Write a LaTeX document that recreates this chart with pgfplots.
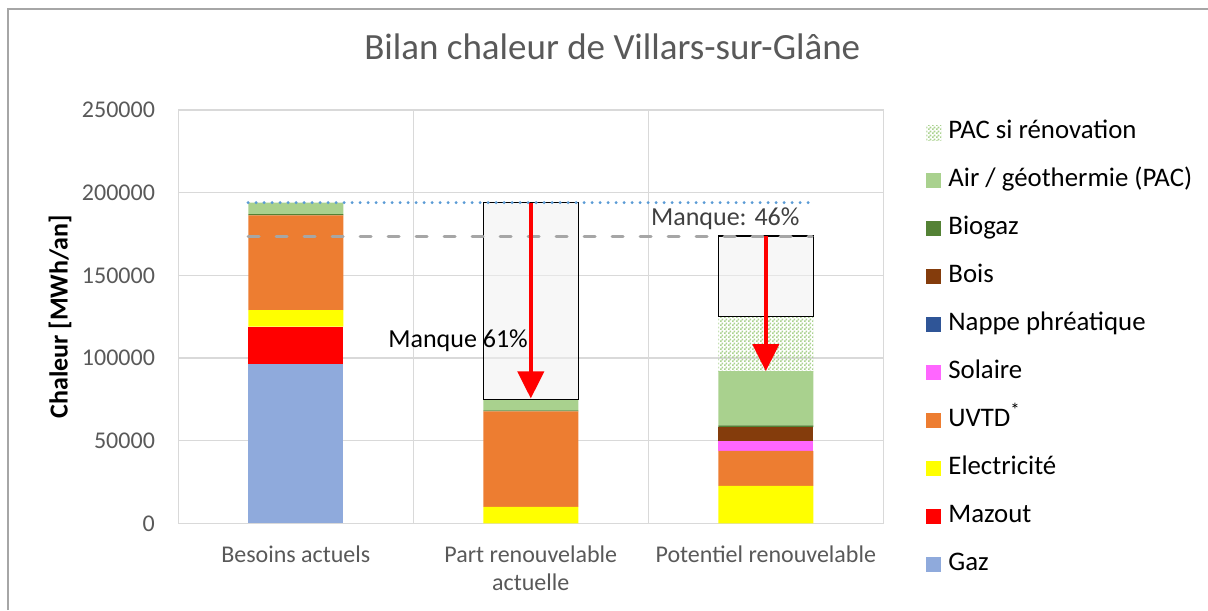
\documentclass[border=0pt]{standalone}
\usepackage{pgfplots}
\pgfplotsset{compat=1.18}
\usepackage{fontspec}
\setmainfont{Carlito}
\usetikzlibrary{patterns,arrows.meta}
\definecolor{cgaz}{HTML}{8FAADC}
\definecolor{cmazout}{HTML}{FF0000}
\definecolor{celec}{HTML}{FFFF00}
\definecolor{cuvtd}{HTML}{ED7D31}
\definecolor{csolaire}{HTML}{FF66FF}
\definecolor{cnappe}{HTML}{2F5597}
\definecolor{cbois}{HTML}{843C0C}
\definecolor{cbiogaz}{HTML}{548235}
\definecolor{cair}{HTML}{A9D18E}
\definecolor{cgrid}{HTML}{D9D9D9}
\definecolor{ctick}{HTML}{595959}
\definecolor{cmanq}{HTML}{404040}
\definecolor{cborder}{HTML}{A6A6A6}
\definecolor{cdot}{HTML}{5B9BD5}
\definecolor{cdash}{HTML}{A6A6A6}
\pgfdeclarepatternformonly{pacpat}{\pgfpointorigin}{\pgfpoint{2pt}{2pt}}{\pgfpoint{2pt}{2pt}}{%
  \pgfpathrectangle{\pgfpointorigin}{\pgfpoint{1pt}{1pt}}%
  \pgfpathrectangle{\pgfpoint{1pt}{1pt}}{\pgfpoint{1pt}{1pt}}%
  \pgfusepath{fill}}
\pgfplotsset{
  common/.style={at={(89.15pt,43.35pt)}, anchor=south west, scale only axis,
    width=352.5pt, height=206.65pt, xmin=-0.5, xmax=2.5, ymin=0, ymax=250000},
}
\begin{document}
\begin{tikzpicture}
\path[use as bounding box] (0,0) rectangle (604pt,305pt);
\draw[cborder, line width=1pt] (4pt,0pt) -- (4pt,300.5pt) -- (604pt,300.5pt);

\begin{axis}[common,
  ybar stacked, bar width=47.5pt,
  xtick={0,1,2},
  xticklabels={{Besoins actuels},{\begin{tabular}[t]{@{}c@{}}Part renouvelable\\actuelle\end{tabular}},{Potentiel renouvelable}},
  minor xtick={0.5,1.5},
  ytick={0,50000,100000,150000,200000,250000},
  ymajorgrids, xminorgrids,
  major grid style={draw=cgrid, line width=0.75pt},
  minor grid style={draw=cgrid, line width=0.75pt},
  axis line style={draw=cgrid, line width=0.75pt},
  major tick length=0pt, minor tick length=0pt,
  scaled y ticks=false,
  /pgf/number format/assume math mode=true,
  yticklabel style={/pgf/number format/fixed, /pgf/number format/1000 sep={}, anchor=east, inner sep=0pt, xshift=-11.5pt},
  xticklabel style={anchor=base, inner sep=0pt, yshift=-19.5pt},
  tick label style={font=\fontsize{12}{14}\selectfont, text=ctick},
  every axis title/.style={at={(axis description cs:0.6156,1.1227)}, anchor=base, font=\fontsize{18.5}{22}\selectfont, text=ctick, inner sep=0pt},
  title={Bilan chaleur de Villars-sur-Glâne},
  ylabel={Chaleur [MWh/an]},
  ylabel style={font=\bfseries\fontsize{13}{15}\selectfont, inner sep=5pt},
  reverse legend,
  legend image code/.code={\draw[#1,draw=none] (0pt,-3.75pt) rectangle (7.5pt,3.75pt);},
  legend style={at={(axis description cs:1.0606,0.977)}, anchor=north west, draw=none, fill=none,
    inner sep=0pt, column sep=3.5pt, row sep=11pt, font=\fontsize{13.4}{15}\selectfont,
    nodes={inner sep=0pt, text height=9.5pt, text depth=3.5pt, anchor=west}},
  legend cell align=left,
]
\addplot[fill=cgaz, draw=none] coordinates {(0,96500) (1,0) (2,0)};
\addlegendentry{Gaz}
\addplot[fill=cmazout, draw=none] coordinates {(0,22500) (1,0) (2,0)};
\addlegendentry{Mazout}
\addplot[fill=celec, draw=none] coordinates {(0,10000) (1,10000) (2,22700)};
\addlegendentry{Electricité}
\addplot[fill=cuvtd, draw=none] coordinates {(0,57300) (1,57700) (2,21100)};
\addlegendentry{UVTD\textsuperscript{*}}
\addplot[fill=csolaire, draw=none] coordinates {(0,0) (1,0) (2,6000)};
\addlegendentry{Solaire}
\addplot[fill=cnappe, draw=none] coordinates {(0,0) (1,0) (2,0)};
\addlegendentry{Nappe phréatique}
\addplot[fill=cbois, draw=none] coordinates {(0,0) (1,0) (2,8400)};
\addlegendentry{Bois}
\addplot[fill=cbiogaz, draw=none] coordinates {(0,700) (1,600) (2,1100)};
\addlegendentry{Biogaz}
\addplot[fill=cair, draw=none] coordinates {(0,7000) (1,6700) (2,32700)};
\addlegendentry{Air / géothermie (PAC)}
\addplot[pattern=pacpat, pattern color=cair, draw=none] coordinates {(0,0) (1,0) (2,33000)};
\addlegendentry{PAC si rénovation}
\end{axis}

\begin{axis}[common, hide axis, ybar stacked, bar width=47.5pt]
\addplot[draw=none, fill=none] coordinates {(1,75000) (2,125000)};
\addplot[draw=black, line width=0.8pt, fill=black!6, fill opacity=0.55] coordinates {(1,119000) (2,48700)};
\end{axis}

\begin{axis}[common, hide axis, clip=false]
\addplot[cdot, line width=1.6pt, line cap=round, dash pattern=on 0pt off 4pt] coordinates {(-0.203,194000) (2.197,194000)};
\addplot[cdash, line width=1.5pt, line cap=round, dash pattern=on 5.5pt off 8.5pt] coordinates {(-0.203,173700) (2.197,173700)};
\addplot[red, line width=2pt, -{Triangle[width=13pt,length=13.5pt]}] coordinates {(1,194000) (1,75500)};
\addplot[red, line width=2pt, -{Triangle[width=13pt,length=13.5pt]}] coordinates {(2,173700) (2,92000)};
\node[anchor=base east, font=\fontsize{13}{15}\selectfont, inner sep=0pt] at (axis cs:0.989,106500) {Manque 61\%};
\node[anchor=base, font=\fontsize{13}{15}\selectfont, text=cmanq, inner sep=0pt] at (axis cs:1.8277,179900) {Manque: 46\%};
\end{axis}
\end{tikzpicture}
\end{document}
